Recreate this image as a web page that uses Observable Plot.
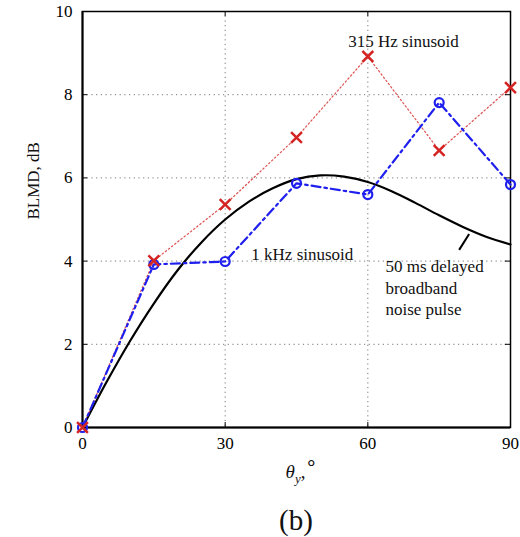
<!DOCTYPE html>
<html>
<head>
<meta charset="utf-8">
<script src="https://cdn.jsdelivr.net/npm/d3@7"></script>
<script src="https://cdn.jsdelivr.net/npm/@observablehq/plot@0.6"></script>
<style>
  html, body { margin: 0; padding: 0; background: white; }
  svg, svg text { font-family: "Liberation Serif", serif !important; }
</style>
</head>
<body>
<div id="chart"></div>
<script>
// Angles (degrees)
const angles = [0, 15, 30, 45, 60, 75, 90];
// 315 Hz sinusoid (red x, dotted)
const blmd315 = [0, 4.01, 5.36, 6.97, 8.92, 6.66, 8.17];
// 1 kHz sinusoid (blue o, dash-dot)
const blmd1k = [0, 3.92, 3.99, 5.87, 5.60, 7.81, 5.84];
// 50 ms delayed broadband noise pulse (black solid curve)
const noiseAngles = [0, 5, 10, 15, 20, 25, 30, 35, 40, 45, 50, 55, 60, 65, 70, 75, 80, 85, 90];
const noiseBlmd   = [0, 1.08, 2.08, 2.98, 3.78, 4.45, 5.0, 5.43, 5.75, 5.97, 6.06, 6.03, 5.90, 5.68, 5.40, 5.10, 4.82, 4.58, 4.40];
// Axis ticks
const xTicks = [0, 30, 60, 90];
const yTicks = [0, 2, 4, 6, 8, 10];
const xGrid = [30, 60];
const yGrid = [2, 4, 6, 8];
// Annotations
const labels = [
  {x: 67.5, y: 9.28, text: "315 Hz sinusoid", anchor: "middle"},
  {x: 35.5, y: 4.18, text: "1 kHz sinusoid", anchor: "start"},
  {x: 63.7, y: 3.38, text: "50 ms delayed\nbroadband\nnoise pulse", anchor: "start"}
];
const pointer = [{x1: 81.3, y1: 4.65, x2: 79.2, y2: 4.27}];

const d315 = angles.map((a, i) => ({x: a, y: blmd315[i]}));
const d1k = angles.map((a, i) => ({x: a, y: blmd1k[i]}));
const dNoise = noiseAngles.map((a, i) => ({x: a, y: noiseBlmd[i]}));

const red = "#d42424";
const blue = "#1f1fee";
const serif = "Liberation Serif, serif";

const svg = Plot.plot({
  width: 520,
  height: 537,
  marginLeft: 82,
  marginRight: 10,
  marginTop: 11,
  marginBottom: 110,
  style: {fontFamily: serif, fontSize: "17px", background: "white", color: "black"},
  x: {domain: [0, 90], ticks: xTicks, tickSize: 0, tickPadding: 9, label: null},
  y: {domain: [0, 10], ticks: yTicks, tickSize: 0, tickPadding: 10, label: null},
  marks: [
    Plot.ruleX(xGrid, {stroke: "#777", strokeDasharray: "1.2,3.5", strokeWidth: 1}),
    Plot.ruleY(yGrid, {stroke: "#777", strokeDasharray: "1.2,3.5", strokeWidth: 1}),
    // inward ticks
    Plot.ruleX(xTicks, {y1: 0, y2: 0.12, stroke: "black", strokeWidth: 1}),
    Plot.ruleX(xTicks, {y1: 9.88, y2: 10, stroke: "black", strokeWidth: 1}),
    Plot.ruleY(yTicks, {x1: 0, x2: 1.1, stroke: "black", strokeWidth: 1}),
    Plot.ruleY(yTicks, {x1: 88.9, x2: 90, stroke: "black", strokeWidth: 1}),
    Plot.frame({stroke: "black", strokeWidth: 1.5}),
    Plot.ruleX([0], {stroke: "black", strokeWidth: 2}),
    Plot.ruleY([0], {stroke: "black", strokeWidth: 2}),
    Plot.line(dNoise, {x: "x", y: "y", curve: "catmull-rom", stroke: "black", strokeWidth: 2.2}),
    Plot.line(d315, {x: "x", y: "y", stroke: red, strokeWidth: 1.2, strokeDasharray: "1.5,2.5", strokeOpacity: 0.8}),
    Plot.line(d1k, {x: "x", y: "y", stroke: blue, strokeWidth: 2.2, strokeDasharray: "9,4,2.5,4"}),
    Plot.dot(d1k, {x: "x", y: "y", r: 4.5, stroke: blue, strokeWidth: 2.2, fill: "none"}),
    Plot.dot(d315, {x: "x", y: "y", symbol: "times", r: 5, stroke: red, strokeWidth: 2.5}),
    Plot.link(pointer, {x1: "x1", y1: "y1", x2: "x2", y2: "y2", stroke: "black", strokeWidth: 2}),
    Plot.text(labels.filter(d => d.anchor === "middle"), {x: "x", y: "y", text: "text", textAnchor: "middle", fontSize: 17, fontFamily: serif, fill: "#111"}),
    Plot.text(labels.filter(d => d.anchor === "start"), {x: "x", y: "y", text: "text", textAnchor: "start", fontSize: 17, fontFamily: serif, lineHeight: 1.25, fill: "#111"}),
    Plot.text(["BLMD, dB"], {frameAnchor: "left", dx: -49, rotate: -90, text: d => d, fontSize: 17, fontFamily: serif, fill: "#111"})
  ]
});

// x-axis label with subscript and degree symbol, plus panel label
const sel = d3.select(svg);
const xs = svg.scale("x");
const cx = (xs.apply(0) + xs.apply(90)) / 2;
const t = sel.append("text")
  .attr("x", cx + 6)
  .attr("y", 478)
  .attr("text-anchor", "middle")
  .attr("fill", "#111")
  .attr("font-family", serif)
  .style("font-size", "19px");
t.append("tspan").attr("font-style", "italic").text("θ");
t.append("tspan").attr("font-style", "italic").attr("dy", 5).style("font-size", "13px").text("y");
t.append("tspan").attr("dy", -5).text(",");
t.append("tspan").attr("dy", -8).style("font-size", "20px").text("∘");
sel.append("text")
  .attr("x", cx)
  .attr("y", 530)
  .attr("text-anchor", "middle")
  .attr("fill", "#111")
  .attr("font-family", serif)
  .style("font-size", "29px")
  .text("(b)");

document.getElementById("chart").appendChild(svg);
</script>
</body>
</html>
